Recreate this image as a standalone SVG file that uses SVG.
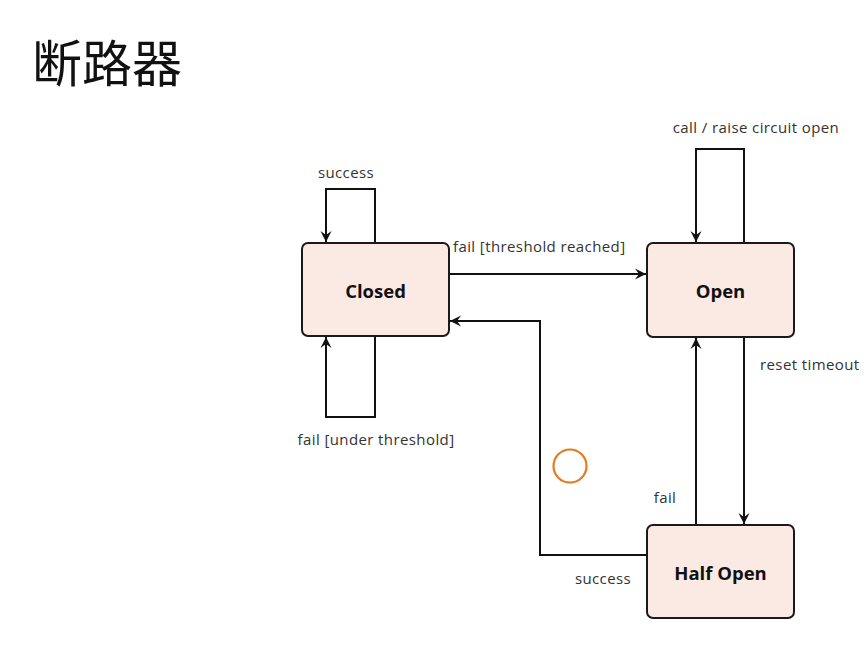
<svg xmlns="http://www.w3.org/2000/svg" width="867" height="661" viewBox="0 0 867 661">
<defs>
<marker id="arr" viewBox="0 0 12 12" refX="11" refY="6" markerWidth="12" markerHeight="12" markerUnits="userSpaceOnUse" orient="auto">
<path d="M0,0.5 L11,6 L0,11.5 L4,6 Z" fill="#111"/>
</marker>
<style>
.node rect{fill:#FBEAE3;stroke:#1a1a1a;stroke-width:2}
.node text{font-family:"Open Sans","Liberation Sans",sans-serif;font-weight:bold;font-size:18.5px;fill:#111;text-anchor:middle}
.edges path{fill:none;stroke:#111;stroke-width:2;marker-end:url(#arr)}
.lbl{font-family:"Open Sans","Liberation Sans",sans-serif;font-size:15px;letter-spacing:0.4px;fill:#333}
</style>
</defs>
<rect width="867" height="661" fill="#ffffff"/>
<text x="32" y="82" font-family="'Noto Sans CJK SC',sans-serif" font-size="50" fill="#111">断路器</text>
<g class="edges">
<path d="M375,243 V189 H326 V242"/>
<path d="M375,336 V417 H326 V337"/>
<path d="M449,274 H646"/>
<path d="M647,555 H540 V321 H450"/>
<path d="M744,243 V149 H696 V242"/>
<path d="M696,525 V338"/>
<path d="M744,337 V524"/>
</g>
<g id="closed" class="node"><rect x="302" y="243" width="147" height="93" rx="6"/><text x="375.5" y="298">Closed</text></g>
<g id="open" class="node"><rect x="647" y="243" width="147" height="94" rx="6"/><text x="720.5" y="298">Open</text></g>
<g id="halfopen" class="node"><rect x="647" y="525" width="147" height="93" rx="6"/><text x="720.5" y="580">Half Open</text></g>
<g id="labels">
<text class="lbl" x="346" y="178" text-anchor="middle">success</text>
<text class="lbl" x="376" y="445" text-anchor="middle">fail [under threshold]</text>
<text class="lbl" x="453" y="252">fail [threshold reached]</text>
<text class="lbl" x="756" y="133" text-anchor="middle">call / raise circuit open</text>
<text class="lbl" x="760" y="370">reset timeout</text>
<text class="lbl" x="665" y="503" text-anchor="middle">fail</text>
<text class="lbl" x="603" y="584" text-anchor="middle">success</text>
</g>
<circle cx="570" cy="466" r="16.5" fill="none" stroke="#E8791E" stroke-width="2.2"/>
</svg>
